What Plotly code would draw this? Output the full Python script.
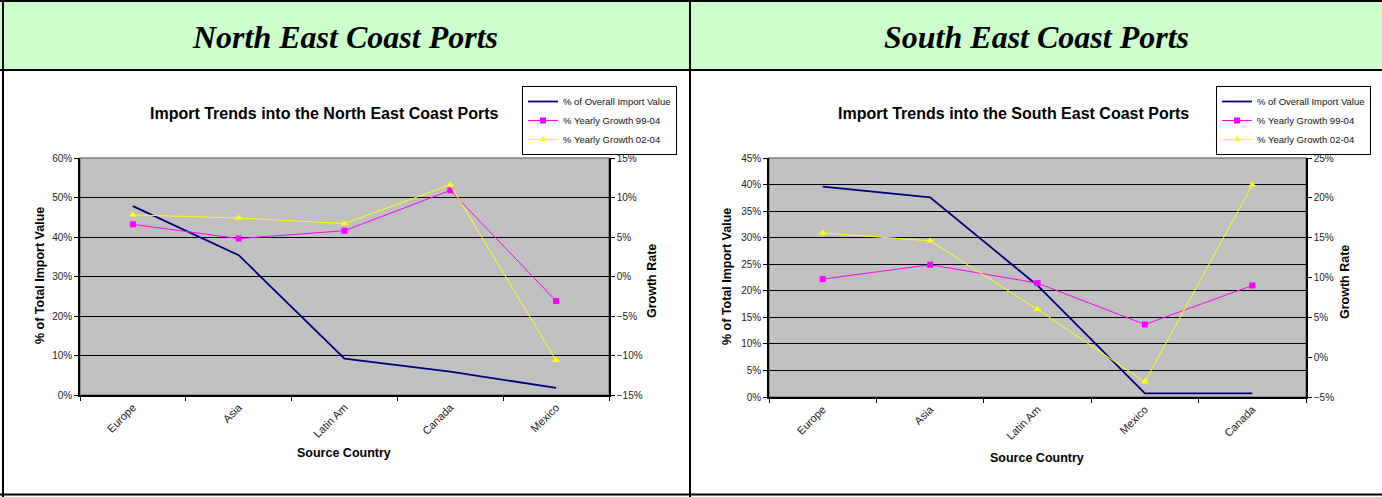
import plotly.graph_objects as go

W, H = 1382, 497

# ---------------- data ----------------
ne_categories = ["Europe", "Asia", "Latin Am", "Canada", "Mexico"]
ne_share = [47.8, 35.4, 9.2, 5.9, 1.8]
ne_growth_99_04 = [6.6, 4.8, 5.8, 10.9, -3.1]
ne_growth_02_04 = [7.8, 7.4, 6.7, 11.6, -10.6]

se_categories = ["Europe", "Asia", "Latin Am", "Mexico", "Canada"]
se_share = [39.6, 37.6, 21.0, 0.7, 0.7]
se_growth_99_04 = [9.8, 11.6, 9.3, 4.1, 9.0]
se_growth_02_04 = [15.6, 14.6, 6.0, -3.1, 21.6]

series_names = ["% of Overall Import Value", "% Yearly Growth 99-04", "% Yearly Growth 02-04"]
header_titles = ["North East Coast Ports", "South East Coast Ports"]
chart_titles = ["Import Trends into the North East Coast Ports",
                "Import Trends into the South East Coast Ports"]
x_title = "Source Country"
y_title = "% of Total Import Value"
y2_title = "Growth Rate"


def px(x):
    return x / W


def py(y):
    return 1 - y / H


FONT = "Arial, Liberation Sans, sans-serif"
SERIF = "Times New Roman, Liberation Serif, serif"
NAVY, MAGENTA, YELLOW = "#000080", "#FF00FF", "#FFFF00"

fig = go.Figure()

# left chart traces
fig.add_trace(go.Scatter(x=ne_categories, y=ne_share, name=series_names[0], mode="lines",
                         line=dict(color=NAVY, width=1.8), xaxis="x", yaxis="y", legend="legend"))
fig.add_trace(go.Scatter(x=ne_categories, y=ne_growth_99_04, name=series_names[1], mode="lines+markers",
                         line=dict(color=MAGENTA, width=1), marker=dict(symbol="square", size=6, color=MAGENTA),
                         xaxis="x", yaxis="y2", legend="legend"))
fig.add_trace(go.Scatter(x=ne_categories, y=ne_growth_02_04, name=series_names[2], mode="lines+markers",
                         line=dict(color=YELLOW, width=1), marker=dict(symbol="triangle-up", size=7, color=YELLOW),
                         xaxis="x", yaxis="y2", legend="legend"))

# right chart traces
fig.add_trace(go.Scatter(x=se_categories, y=se_share, name=series_names[0], mode="lines",
                         line=dict(color=NAVY, width=1.8), xaxis="x2", yaxis="y3", legend="legend2"))
fig.add_trace(go.Scatter(x=se_categories, y=se_growth_99_04, name=series_names[1], mode="lines+markers",
                         line=dict(color=MAGENTA, width=1), marker=dict(symbol="square", size=6, color=MAGENTA),
                         xaxis="x2", yaxis="y4", legend="legend2"))
fig.add_trace(go.Scatter(x=se_categories, y=se_growth_02_04, name=series_names[2], mode="lines+markers",
                         line=dict(color=YELLOW, width=1), marker=dict(symbol="triangle-up", size=7, color=YELLOW),
                         xaxis="x2", yaxis="y4", legend="legend2"))

tickfont = dict(family=FONT, size=10, color="#222222")

left_dom_x = [px(80), px(609)]
left_dom_y = [py(395), py(158)]
right_dom_x = [px(769), px(1306)]
right_dom_y = [py(397), py(158)]

xcommon = dict(type="category", tickson="boundaries", ticks="outside", ticklen=4, tickcolor="black",
               showline=True, linecolor="black", linewidth=1.5, showgrid=False, tickangle=-45,
               tickfont=dict(family=FONT, size=11, color="#222222"), fixedrange=True)
ycommon = dict(ticks="outside", ticklen=4, tickcolor="black", showline=True, linecolor="black",
               linewidth=1.5, ticksuffix="%", zeroline=False, tickfont=tickfont, fixedrange=True)

legend_font = dict(family=FONT, size=9.5, color="#111")

fig.update_layout(
    width=W, height=H, margin=dict(l=0, r=0, t=0, b=0, pad=0, autoexpand=False),
    paper_bgcolor="white", plot_bgcolor="#C0C0C0",
    xaxis=dict(domain=left_dom_x, anchor="y", range=[-0.5, 4.5], **xcommon),
    yaxis=dict(domain=left_dom_y, anchor="x", range=[0, 60], dtick=10, showgrid=True,
               gridcolor="#000000", gridwidth=1, **ycommon),
    yaxis2=dict(overlaying="y", anchor="x", side="right", range=[-15, 15], dtick=5, showgrid=False, **ycommon),
    xaxis2=dict(domain=right_dom_x, anchor="y3", range=[-0.5, 4.5], **xcommon),
    yaxis3=dict(domain=right_dom_y, anchor="x2", range=[0, 45], dtick=5, showgrid=True,
                gridcolor="#000000", gridwidth=1, **ycommon),
    yaxis4=dict(overlaying="y3", anchor="x2", side="right", range=[-5, 25], dtick=5, showgrid=False, **ycommon),
    legend=dict(x=px(522), y=py(86), xanchor="left", yanchor="top", bgcolor="white",
                bordercolor="black", borderwidth=1, font=legend_font,
                itemwidth=30, tracegroupgap=0),
    legend2=dict(x=px(1216), y=py(86), xanchor="left", yanchor="top", bgcolor="white",
                 bordercolor="black", borderwidth=1, font=legend_font,
                 itemwidth=30, tracegroupgap=0),
    showlegend=True,
)

shapes = []
# header background
shapes.append(dict(type="rect", xref="paper", yref="paper", x0=0, x1=1, y0=py(70), y1=1,
                   fillcolor="#CCFFCC", line=dict(width=0), layer="below"))
# plot area borders (gray)
for (x0, x1), (y0, y1) in [(left_dom_x, left_dom_y), (right_dom_x, right_dom_y)]:
    shapes.append(dict(type="rect", xref="paper", yref="paper", x0=x0, x1=x1, y0=y0, y1=y1,
                       line=dict(color="#808080", width=1.5), layer="below"))
# table borders
blk = dict(color="black", width=2)
shapes += [
    dict(type="line", xref="paper", yref="paper", x0=0, x1=1, y0=py(1), y1=py(1), line=blk),
    dict(type="line", xref="paper", yref="paper", x0=0, x1=1, y0=py(70), y1=py(70), line=blk),
    dict(type="line", xref="paper", yref="paper", x0=0, x1=1, y0=py(494.5), y1=py(494.5), line=blk),
    dict(type="line", xref="paper", yref="paper", x0=px(3), x1=px(3), y0=0, y1=1, line=blk),
    dict(type="line", xref="paper", yref="paper", x0=px(690), x1=px(690), y0=0, y1=1, line=blk),
]
fig.update_layout(shapes=shapes)

ann = []
# header titles
for title, cx in zip(header_titles, [345, 1036]):
    ann.append(dict(text=f"<b><i>{title}</i></b>", x=px(cx), y=py(37), xref="paper", yref="paper",
                    xanchor="center", yanchor="middle", showarrow=False,
                    font=dict(family=SERIF, size=32, color="black")))
# chart titles
for title, cx in zip(chart_titles, [324, 1014]):
    ann.append(dict(text=f"<b>{title}</b>", x=px(cx), y=py(114), xref="paper", yref="paper",
                    xanchor="center", yanchor="middle", showarrow=False,
                    font=dict(family=FONT, size=16, color="black")))
# axis titles
axis_font = dict(family=FONT, size=12.5, color="black")
for cx, cy in [(344, 453), (1037, 458)]:
    ann.append(dict(text=f"<b>{x_title}</b>", x=px(cx), y=py(cy), xref="paper", yref="paper",
                    xanchor="center", yanchor="middle", showarrow=False, font=axis_font))
for cx, cy in [(40, 276), (727, 277)]:
    ann.append(dict(text=f"<b>{y_title}</b>", x=px(cx), y=py(cy), xref="paper", yref="paper",
                    xanchor="center", yanchor="middle", showarrow=False, textangle=-90, font=axis_font))
for cx, cy in [(652, 281), (1345, 282)]:
    ann.append(dict(text=f"<b>{y2_title}</b>", x=px(cx), y=py(cy), xref="paper", yref="paper",
                    xanchor="center", yanchor="middle", showarrow=False, textangle=-90, font=axis_font))
fig.update_layout(annotations=ann)

fig.write_html(
    "out.html",
    config={"displayModeBar": False},
    post_script=(
        "document.documentElement.style.margin='0';"
        "document.documentElement.style.overflow='hidden';"
        "document.body.style.margin='0';document.body.style.padding='0';"
        "document.body.style.overflow='hidden';"
        "var d=document.getElementById('{plot_id}');"
        "d.style.position='absolute';d.style.top='0px';d.style.left='0px';"
    ),
)
